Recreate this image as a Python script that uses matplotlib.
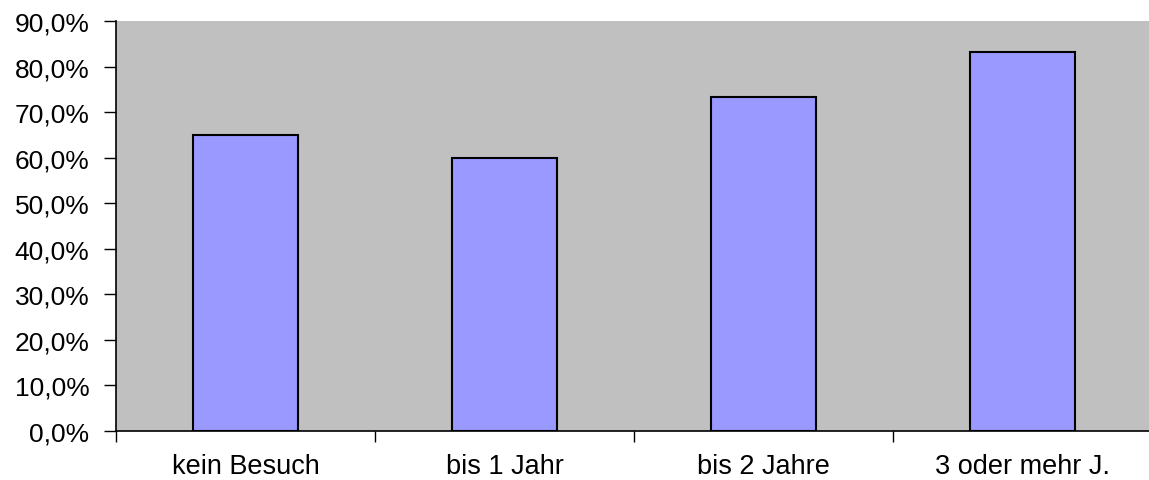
import matplotlib.pyplot as plt
import numpy as np
from matplotlib.ticker import FuncFormatter, FixedLocator

# Anteil je Kategorie (in %)
categories = ['kein Besuch', 'bis 1 Jahr', 'bis 2 Jahre', '3 oder mehr J.']
values = [65.0, 60.0, 73.3, 83.3]
yticks = [0, 10, 20, 30, 40, 50, 60, 70, 80, 90]

plt.rcParams['font.family'] = ['Liberation Sans', 'DejaVu Sans']

fig = plt.figure(figsize=(11.49, 4.81), dpi=100)
# right edge of the plot area runs slightly past the figure border
ax = fig.add_axes([116 / 1149, 1 - 432 / 481, 1036 / 1149, 410 / 481])

x = np.arange(len(categories))
ax.bar(x, values, width=0.405, color='#9999ff', edgecolor='black', linewidth=1.5, zorder=3)

ax.set_facecolor('#c0c0c0')
ax.set_xlim(-0.5, len(categories) - 0.5)
ax.set_ylim(0, 90)

ax.set_yticks(yticks)
ax.yaxis.set_major_formatter(FuncFormatter(lambda v, p: f'{v:.1f}%'.replace('.', ',')))
ax.tick_params(axis='y', direction='out', length=9, width=1, pad=10, labelsize=19)

# category labels at bar centres, tick marks at category boundaries
ax.set_xticks(x)
ax.set_xticklabels(categories)
ax.xaxis.set_minor_locator(FixedLocator(np.arange(-0.5, len(categories), 1.0)))
ax.tick_params(axis='x', which='major', length=0, pad=16, labelsize=19.5)
ax.tick_params(axis='x', which='minor', direction='out', length=8, width=1)

for side in ['top', 'right']:
    ax.spines[side].set_visible(False)
ax.spines['left'].set_linewidth(1.2)
ax.spines['bottom'].set_linewidth(1.2)

fig.savefig('out.png', dpi=100)
